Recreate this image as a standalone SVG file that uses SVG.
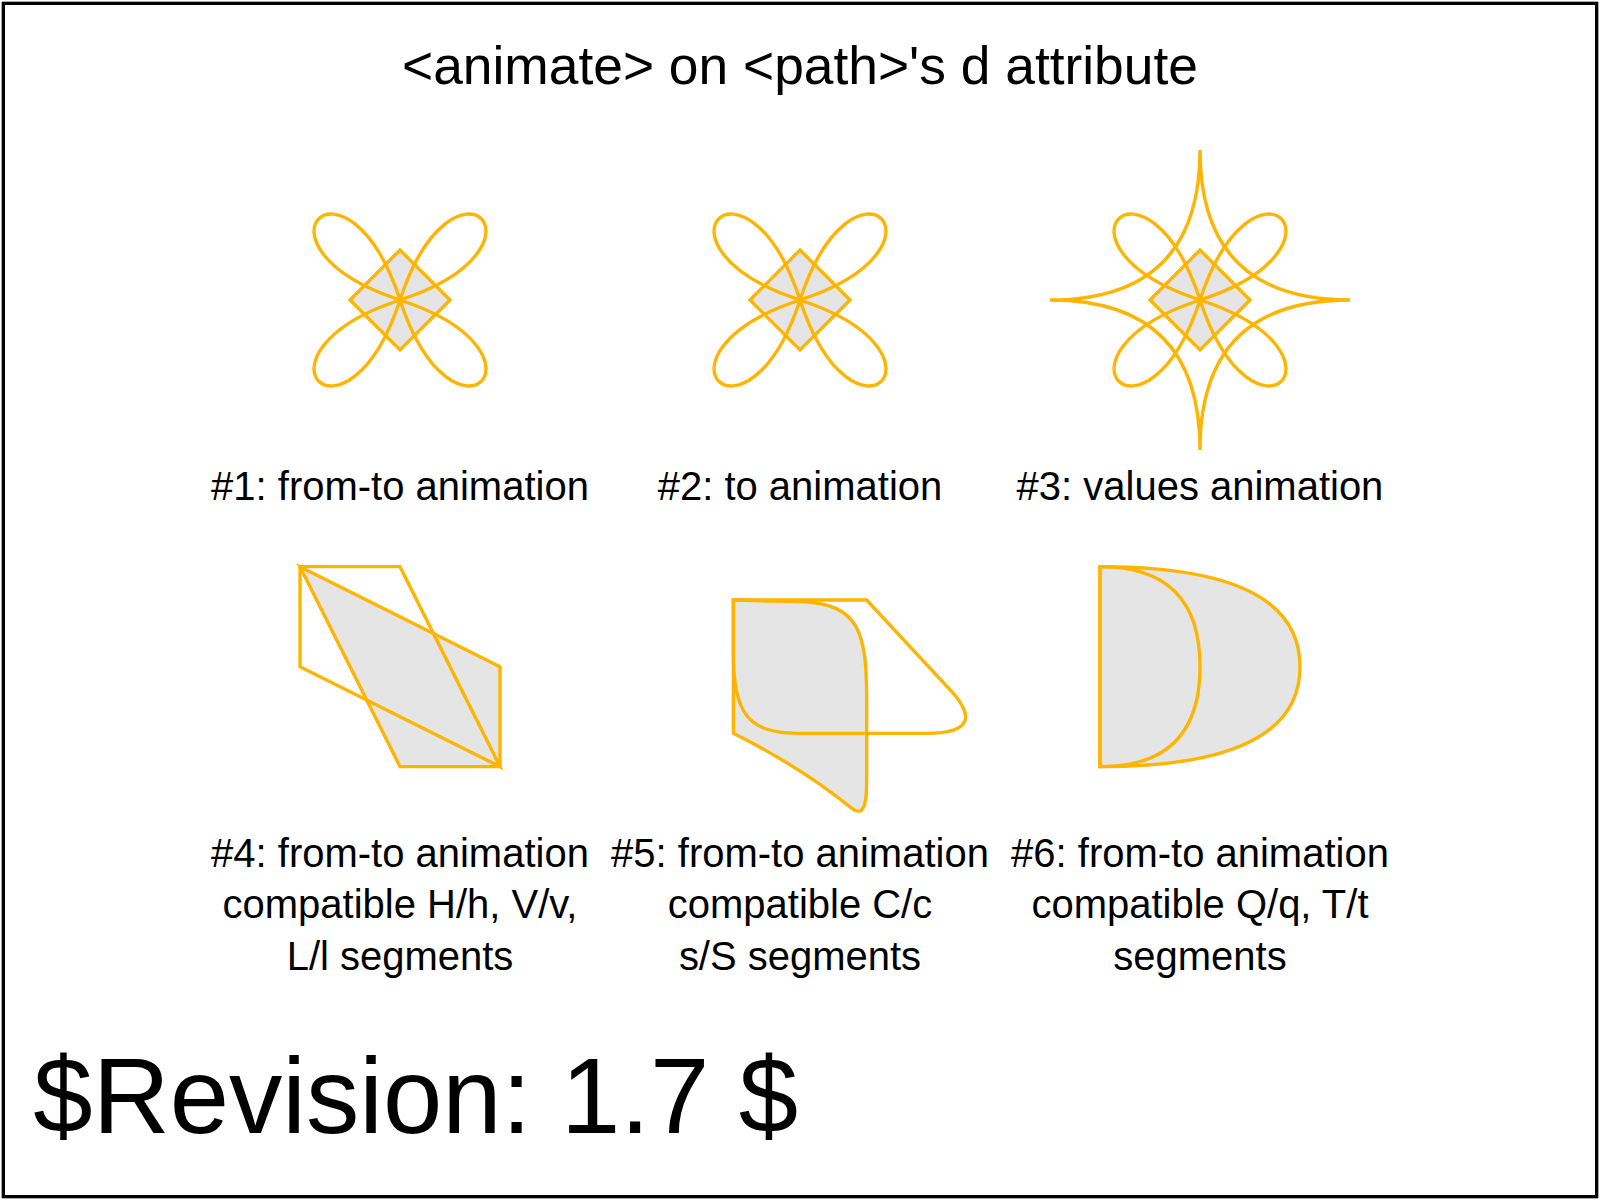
<svg xmlns="http://www.w3.org/2000/svg" width="1600" height="1200" viewBox="0 0 1600 1200">
  <style>
    .s { stroke: #ffb400; stroke-width: 1; fill: none; }
    .f { fill: #e5e5e5; }
    text { font-family: "Liberation Sans", Arial, sans-serif; fill: #000; }
    .lbl { font-size: 12px; text-anchor: middle; }
  </style>
  <defs>
    <path id="diamond" d="M-15,0 L0,-15 L15,0 L0,15 Z"/>
    <path id="petals" d="M0,0 C-16,-49 -49,-16 0,0 C16,-49 49,-16 0,0 C16,49 49,16 0,0 C-16,49 -49,16 0,0"/>
  </defs>
  <rect width="1600" height="1200" fill="#fff"/>
  <g transform="scale(3.333333)">
    <rect id="test-frame" x="1" y="1" width="478" height="358" fill="none" stroke="#000" stroke-width="1"/>
    <text id="title" x="240" y="25.2" font-size="16" text-anchor="middle">&lt;animate&gt; on &lt;path&gt;'s d attribute</text>

    <g id="shape1" transform="translate(120,90)">
      <use href="#diamond" class="s f"/>
      <use href="#petals" class="s"/>
    </g>
    <g id="shape2" transform="translate(240,90)">
      <use href="#diamond" class="s f"/>
      <use href="#petals" class="s"/>
    </g>
    <g id="shape3" transform="translate(360,90)">
      <use href="#diamond" class="s f"/>
      <use href="#petals" class="s"/>
      <path class="s" d="M0,-45 Q0,0 45,0 Q0,0 0,45 Q0,0 -45,0 Q0,0 0,-45"/>
    </g>

    <g id="label1"><text class="lbl" x="120" y="150">#1: from-to animation</text></g>
    <g id="label2"><text class="lbl" x="240" y="150">#2: to animation</text></g>
    <g id="label3"><text class="lbl" x="360" y="150">#3: values animation</text></g>

    <g id="shape4">
      <path class="s f" d="M90,170 L150,200 V230 H120 Z"/>
      <path class="s" d="M90,170 H120 L150,230 L90,200 Z"/>
    </g>
    <g id="shape5">
      <path class="s f" d="M220,180 V220 C238,229 250,238 255.5,242.5 C259,245 260,242 260,234 L260,210 C260,190 258,181 240,180.5 Z"/>
      <path class="s" d="M220,180 H260 L286,208 C292,215 291.5,220 278,220 L240,220 C224,220 220,214 220,195 Z"/>
    </g>
    <g id="shape6">
      <path class="s f" d="M330,170 Q390,170 390,200 T330,230 Z"/>
      <path class="s" d="M330,170 Q360,170 360,200 T330,230 Z"/>
    </g>

    <g id="label4">
      <text class="lbl" x="120" y="260">#4: from-to animation</text>
      <text class="lbl" x="120" y="275.5">compatible H/h, V/v,</text>
      <text class="lbl" x="120" y="291">L/l segments</text>
    </g>
    <g id="label5">
      <text class="lbl" x="240" y="260">#5: from-to animation</text>
      <text class="lbl" x="240" y="275.5">compatible C/c</text>
      <text class="lbl" x="240" y="291">s/S segments</text>
    </g>
    <g id="label6">
      <text class="lbl" x="360" y="260">#6: from-to animation</text>
      <text class="lbl" x="360" y="275.5">compatible Q/q, T/t</text>
      <text class="lbl" x="360" y="291">segments</text>
    </g>

    <text id="revision" x="10" y="340" font-size="32">$Revision: 1.7 $</text>
  </g>
</svg>
